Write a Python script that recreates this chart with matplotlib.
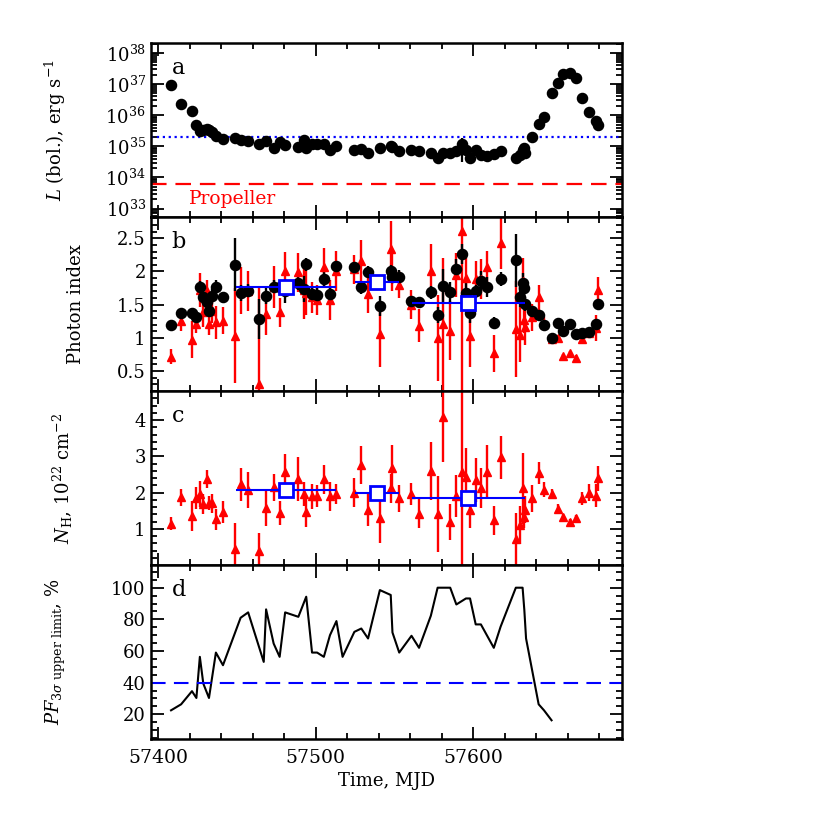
import matplotlib
matplotlib.use("Agg")
import matplotlib.pyplot as plt
import numpy as np
from matplotlib.ticker import MultipleLocator, LogLocator, NullFormatter, FixedLocator

plt.rcParams['font.family'] = ['DejaVu Serif']
plt.rcParams['mathtext.fontset'] = 'dejavuserif'

# observation times (MJD)
mjd = [57408.0, 57414.4, 57421.3, 57424.1, 57426.3, 57428.5, 57430.6, 57432.1, 57434.3, 57436.5,
       57441.0, 57448.5, 57452.2, 57457.0, 57464.1, 57468.4, 57473.2, 57477.0, 57480.5, 57488.9,
       57492.6, 57493.9, 57497.6, 57500.8, 57505.1, 57509.0, 57513.1, 57524.5, 57528.9, 57533.2,
       57540.7, 57547.6, 57548.7, 57553.0, 57560.8, 57565.6, 57573.1, 57577.4, 57580.7, 57585.4,
       57589.3, 57592.8, 57595.4, 57598.0, 57601.6, 57604.9, 57608.7, 57613.1, 57617.4, 57627.1,
       57629.9, 57631.4, 57632.1, 57632.9, 57637.2, 57641.6, 57645.0, 57649.8, 57654.1, 57657.3,
       57661.6, 57665.5, 57669.2, 57673.5, 57677.8, 57679.6]

# log10 bolometric luminosity
log_lum = [36.97, 36.36, 36.13, 35.70, 35.48, 35.53, 35.55, 35.52, 35.45, 35.32,
           35.25, 35.26, 35.21, 35.16, 35.08, 35.18, 34.95, 35.13, 35.03, 34.98,
           35.21, 34.94, 35.07, 35.07, 35.08, 34.89, 35.00, 34.87, 34.92, 34.78,
           34.94, 35.00, 34.97, 34.84, 34.87, 34.84, 34.80, 34.62, 34.80, 34.78,
           34.84, 35.08, 34.87, 34.62, 34.87, 34.73, 34.70, 34.76, 34.84, 34.62,
           34.73, 34.87, 34.94, 34.80, 35.30, 35.73, 35.95, 36.70, 37.03, 37.32,
           37.37, 37.18, 36.56, 36.10, 35.81, 35.67]
lum_err_lo = [0]*41 + [0.57] + [0]*24
lum_err_hi = [0]*41 + [0.19] + [0]*24

# photon index, model 1 (black)
gam1 = [1.20, 1.37, 1.37, 1.31, 1.76, 1.61, 1.535, 1.40, 1.635, 1.77,
        1.61, 2.10, 1.675, 1.71, 1.28, 1.635, 1.77, 1.76, 1.71, 1.82,
        1.735, 2.11, 1.66, 1.65, 1.885, 1.66, 2.08, 2.06, 1.76, 1.995,
        1.475, 2.00, 1.92, 1.92, 1.55, 1.535, 1.685, 1.35, 1.785, 1.685,
        2.035, 2.27, 1.67, 1.37, 1.70, 1.86, 1.77, 1.23, 1.885, 2.17,
        1.61, 1.82, 1.75, 1.51, 1.41, 1.35, 1.20, 1.00, 1.22, 1.10,
        1.21, 1.06, 1.07, 1.085, 1.21, 1.51]
gam1_err = [0.03, 0.05, 0.08, 0.05, 0.10, 0.10, 0.08, 0.08, 0.10, 0.10,
            0.08, 0.40, 0.12, 0.10, 0.30, 0.12, 0.10, 0.10, 0.18, 0.10,
            0.20, 0.10, 0.10, 0.10, 0.10, 0.10, 0.08, 0.08, 0.10, 0.08,
            0.15, 0.10, 0.10, 0.10, 0.05, 0.08, 0.10, 0.12, 0.25, 0.15,
            0.15, 0.15, 0.20, 0.15, 0.10, 0.15, 0.15, 0.08, 0.10, 0.40,
            0.15, 0.15, 0.10, 0.10, 0.05, 0.05, 0.05, 0.05, 0.04, 0.04,
            0.04, 0.04, 0.04, 0.04, 0.04, 0.05]

# photon index, model 2 (red)
gam2 = [0.72, 1.26, 0.97, 1.21, 1.72, 1.385, 1.71, 1.21, 1.41, 1.235,
        1.26, 1.035, 1.71, 1.71, 0.30, 1.36, 1.77, 1.385, 2.00, 1.985,
        1.72, 1.675, 1.61, 1.57, 2.06, 1.57, 2.01, 2.035, 2.16, 1.66,
        1.06, 2.335, 2.01, 1.80, 1.50, 1.185, 2.01, 0.995, 1.21, 1.11,
        1.95, 2.61, 1.90, 1.035, 1.885, 1.885, 2.06, 0.77, 2.435, 1.135,
        1.05, 1.86, 1.27, 1.17, 1.31, 1.61, 1.21, 0.985, 1.00, 0.725,
        0.77, 0.70, 0.985, 1.075, 1.15, 1.72]
gam2_err = [0.11, 0.15, 0.28, 0.13, 0.25, 0.22, 0.16, 0.17, 0.19, 0.25,
            0.20, 0.72, 0.35, 0.30, 1.45, 0.32, 0.32, 0.22, 0.30, 0.30,
            0.44, 0.33, 0.23, 0.22, 0.30, 0.30, 0.30, 0.22, 0.32, 0.28,
            0.50, 0.42, 0.30, 0.20, 0.22, 0.25, 0.40, 0.65, 1.00, 0.45,
            0.33, 2.50, 0.30, 0.47, 0.27, 0.30, 0.25, 0.28, 0.40, 0.72,
            0.42, 0.35, 0.20, 0.27, 0.20, 0.19, 0.10, 0.05, 0.05, 0.04,
            0.04, 0.04, 0.05, 0.05, 0.19, 0.19]

# N_H, 1e22 cm^-2 (red)
nh = [1.14, 1.87, 1.35, 1.84, 1.96, 1.69, 2.37, 1.71, 1.70, 1.26,
      1.46, 0.45, 2.23, 2.08, 0.40, 1.57, 2.14, 1.44, 2.57, 2.37,
      1.96, 1.46, 1.90, 1.90, 2.37, 1.90, 1.96, 1.99, 2.76, 1.53,
      1.29, 2.12, 2.69, 1.84, 1.96, 1.41, 2.60, 1.41, 4.09, 1.18,
      1.91, 2.57, 2.44, 1.53, 2.34, 2.12, 2.57, 1.23, 2.97, 0.72,
      1.11, 2.12, 1.32, 1.53, 1.84, 2.55, 2.08, 1.96, 1.55, 1.32,
      1.20, 1.30, 1.84, 2.00, 1.91, 2.39]
nh_err = [0.18, 0.23, 0.41, 0.30, 0.37, 0.27, 0.25, 0.20, 0.25, 0.28,
          0.30, 0.70, 0.45, 0.50, 0.48, 0.50, 0.37, 0.33, 0.50, 0.60,
          0.32, 0.42, 0.35, 0.30, 0.40, 0.40, 0.28, 0.40, 0.52, 0.45,
          0.67, 0.40, 0.62, 0.37, 0.30, 0.40, 0.80, 1.05, 1.25, 0.50,
          0.58, 3.00, 0.80, 0.50, 0.60, 0.55, 0.73, 0.40, 0.60, 0.73,
          0.52, 0.98, 0.30, 0.37, 0.37, 0.30, 0.20, 0.14, 0.14, 0.08,
          0.08, 0.08, 0.18, 0.23, 0.32, 0.34]

# averaged spectra (blue squares)
avg_mjd = [57481, 57539, 57597]
avg_half = [32, 14, 36]
avg_gam = [1.76, 1.835, 1.525]
avg_gam_err = [0.05, 0.06, 0.04]
avg_nh = [2.07, 1.99, 1.85]
avg_nh_err = [0.06, 0.10, 0.05]

# pulsed fraction 3 sigma upper limit, %
pf_mjd = [57408.0, 57414.4, 57421.3, 57424.1, 57426.3, 57428.5, 57432.1, 57436.5, 57441.0, 57452.2,
          57457.0, 57466.9, 57468.4, 57473.2, 57477.0, 57480.5, 57488.9, 57493.9, 57497.6, 57500.8,
          57505.1, 57509.0, 57513.1, 57517.0, 57524.5, 57528.9, 57533.2, 57540.7, 57547.6, 57548.7,
          57553.0, 57560.8, 57565.6, 57573.1, 57577.4, 57585.4, 57589.3, 57595.4, 57598.0, 57601.6,
          57604.9, 57613.1, 57617.4, 57627.1, 57631.4, 57632.5, 57633.6, 57641.6, 57645.0, 57649.8]
pf = [22.5, 26.3, 34.6, 30.3, 56.3, 39.4, 30.3, 59.0, 51.0, 81.0,
      84.4, 53.1, 86.3, 64.7, 56.3, 84.4, 81.6, 94.3, 59.0, 59.0,
      56.3, 70.0, 78.9, 56.3, 72.1, 74.2, 67.9, 98.5, 95.4, 71.7,
      59.0, 69.6, 62.0, 82.3, 100, 100, 89.4, 93.2, 93.2, 76.8,
      76.8, 62.0, 75.3, 100, 100, 85.9, 67.9, 26.3, 22.5, 16.2]

L_dotted = 2.0e35
L_prop = 6.0e33
pf_level = 40

fig = plt.figure(figsize=(8.14, 8.14), dpi=100)
left, width, h = 0.185, 0.579, 0.2138
bottoms = [0.7334, 0.5196, 0.3058, 0.0920]
axs = [fig.add_axes([left, b, width, h]) for b in bottoms]

for ax in axs:
    ax.set_xlim(57395, 57694.5)
    ax.xaxis.set_major_locator(MultipleLocator(100))
    ax.xaxis.set_minor_locator(MultipleLocator(20))
    ax.tick_params(which='both', direction='in', top=True, right=True, width=1.3, labelsize=13)
    ax.tick_params(which='major', length=9)
    ax.tick_params(which='minor', length=4.5)
    for s in ax.spines.values():
        s.set_linewidth(1.8)
for ax in axs[:3]:
    ax.tick_params(labelbottom=False)

mjd = np.array(mjd)

# a
ax = axs[0]
lum = 10**np.array(log_lum)
lo = lum - 10**(np.array(log_lum) - np.array(lum_err_lo))
hi = 10**(np.array(log_lum) + np.array(lum_err_hi)) - lum
ax.errorbar(mjd, lum, yerr=[lo, hi], fmt='o', color='black', ms=7.3, elinewidth=1.6, capsize=0)
ax.set_yscale('log')
ax.set_ylim(10**32.73, 10**38.32)
ax.yaxis.set_major_locator(LogLocator(base=10, numticks=10))
ax.yaxis.set_minor_locator(LogLocator(base=10, subs=np.arange(2, 10), numticks=20))
ax.yaxis.set_minor_formatter(NullFormatter())
ax.axhline(L_dotted, color='blue', ls=':', lw=1.6)
ax.axhline(L_prop, color='red', ls=(0, (7, 4)), lw=1.6)
ax.text(57447, 10**33.3, 'Propeller', color='red', fontsize=13.5, ha='center', va='center')
ax.set_ylabel(r'$L$ (bol.), erg s$^{-1}$', fontsize=13)
ax.yaxis.set_label_coords(-0.175, 0.5)

# b
ax = axs[1]
ax.errorbar(mjd, gam2, yerr=gam2_err, fmt='^', color='red', ms=6, elinewidth=1.7, capsize=0)
ax.errorbar(mjd, gam1, yerr=gam1_err, fmt='o', color='black', ms=7.3, elinewidth=1.7, capsize=0)
ax.errorbar(avg_mjd, avg_gam, xerr=avg_half, yerr=avg_gam_err, fmt='s', color='blue', mfc='white',
            mec='blue', mew=2, ms=10, elinewidth=1.5, capsize=0, zorder=5)
ax.set_ylim(0.2, 2.82)
ax.yaxis.set_major_locator(FixedLocator([0.5, 1, 1.5, 2, 2.5]))
ax.yaxis.set_major_formatter(plt.FuncFormatter(lambda v, p: f'{v:g}'))
ax.yaxis.set_minor_locator(MultipleLocator(0.1))
ax.set_ylabel('Photon index', fontsize=13)
ax.yaxis.set_label_coords(-0.14, 0.5)

# c
ax = axs[2]
ax.errorbar(mjd, nh, yerr=nh_err, fmt='^', color='red', ms=6, elinewidth=1.7, capsize=0)
ax.errorbar(avg_mjd, avg_nh, xerr=avg_half, yerr=avg_nh_err, fmt='s', color='blue', mfc='white',
            mec='blue', mew=2, ms=10, elinewidth=1.5, capsize=0, zorder=5)
ax.set_ylim(0, 4.8)
ax.yaxis.set_major_locator(FixedLocator([1, 2, 3, 4]))
ax.yaxis.set_minor_locator(MultipleLocator(0.2))
ax.set_ylabel(r'$N_{\rm H}$, 10$^{22}$ cm$^{-2}$', fontsize=13)
ax.yaxis.set_label_coords(-0.16, 0.5)

# d
ax = axs[3]
ax.plot(pf_mjd, pf, color='black', lw=1.5)
ax.axhline(pf_level, color='blue', ls=(0, (7, 4)), lw=1.5)
ax.set_ylim(4.3, 114.3)
ax.yaxis.set_major_locator(FixedLocator([20, 40, 60, 80, 100]))
ax.yaxis.set_minor_locator(MultipleLocator(5))
ax.set_ylabel(r'$PF_{3\sigma\ \rm upper\ limit}$, %', fontsize=13)
ax.yaxis.set_label_coords(-0.175, 0.5)
ax.set_xlabel('Time, MJD', fontsize=13)
ax.tick_params(axis='x', pad=7, labelsize=13.5)

for ax, lab in zip(axs, 'abcd'):
    ax.text(0.045, 0.92, lab, transform=ax.transAxes, fontsize=16, va='top', ha='left')

fig.savefig('out.png', dpi=100)
